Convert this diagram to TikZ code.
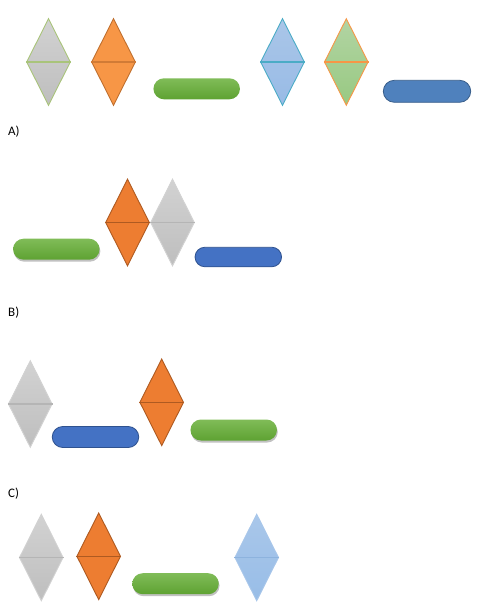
\documentclass[tikz,border=0pt]{standalone}
\usepackage{fontspec}
\setmainfont{Carlito}
\usetikzlibrary{shapes.geometric,shapes.misc,shadows}
\definecolor{grayT}{HTML}{D2D2D2}
\definecolor{grayB}{HTML}{BEBEBE}
\definecolor{grayL}{HTML}{B5B5B5}
\definecolor{oliveL}{HTML}{A9C47A}
\definecolor{orA}{HTML}{F79646}
\definecolor{orAL}{HTML}{C0702F}
\definecolor{orB}{HTML}{ED7D31}
\definecolor{orBL}{HTML}{AE5A21}
\definecolor{ltblT}{HTML}{AAC6E8}
\definecolor{ltblB}{HTML}{98BBE6}
\definecolor{cyanL}{HTML}{4BACC6}
\definecolor{grnT}{HTML}{B2D4A3}
\definecolor{grnB}{HTML}{98C982}
\definecolor{capGT}{HTML}{80BC58}
\definecolor{capGB}{HTML}{5EA232}
\definecolor{blA}{HTML}{4F81BD}
\definecolor{blAL}{HTML}{385D8A}
\definecolor{blB}{HTML}{4472C4}
\definecolor{blBL}{HTML}{2F528F}
\definecolor{dblT}{HTML}{A9C7EA}
\definecolor{dblB}{HTML}{98BDE7}
\definecolor{dblL}{HTML}{8DB3DE}
\begin{document}
\begin{tikzpicture}[x=1pt,y=-1pt,
  dia/.style={diamond, minimum width=44pt, minimum height=87pt, inner sep=0pt, line width=0.9pt},
  pill/.style={rounded rectangle, minimum width=86.5pt, minimum height=21pt, inner sep=0pt},
  graydia/.style={dia, top color=grayT, bottom color=grayB},
  oradia/.style={dia, fill=orB, draw=orBL},
  greencap/.style={pill, top color=capGT, bottom color=capGB},
  shadowcap/.style={greencap, drop shadow={shadow xshift=0.8pt, shadow yshift=-2pt, opacity=0.35, fill=black!70}},
  bluecap/.style={pill, fill=blB, draw=blBL, line width=0.8pt},
  lbl/.style={anchor=west, inner sep=0pt, font=\fontsize{13}{15}\selectfont}
]
\useasboundingbox (0,0) rectangle (481,609);

% ---------- Row A ----------
\node[graydia, draw=oliveL] (a1) at (48.5,62) {};
\draw[oliveL, line width=1.2pt] (a1.west) -- (a1.east);
\node[dia, fill=orA, draw=orAL] (a2) at (113.5,62) {};
\draw[orAL!70!orA, line width=1.2pt] (a2.west) -- (a2.east);
\node[greencap] (a3) at (196.7,88.8) {};
\node[dia, top color=ltblT, bottom color=ltblB, draw=cyanL] (a4) at (282.5,62) {};
\draw[cyanL, line width=1.2pt] (a4.west) -- (a4.east);
\node[dia, top color=grnT, bottom color=grnB, draw=orA] (a5) at (346.3,62) {};
\draw[orA, line width=1.2pt] (a5.west) -- (a5.east);
\node[pill, fill=blA, draw=blAL, line width=0.8pt, minimum width=87.4pt, minimum height=22pt] (a6) at (427,91.3) {};
\node[lbl] (la) at (8,131.5) {A)};

% ---------- Row B ----------
\node[shadowcap] (b1) at (56.3,249.2) {};
\node[oradia] (b2) at (127.5,222.5) {};
\draw[orBL, line width=1.1pt] (b2.west) -- (b2.east);
\node[graydia, draw=grayT] (b3) at (172.5,222.5) {};
\draw[grayL, line width=1.1pt] (b3.west) -- (b3.east);
\node[bluecap, minimum height=19.5pt] (b4) at (238.3,257) {};
\node[lbl] (lb) at (8,312.5) {B)};

% ---------- Row C ----------
\node[graydia, draw=grayT] (c1) at (30.3,404) {};
\draw[grayL, line width=1.1pt] (c1.west) -- (c1.east);
\node[bluecap] (c2) at (95.5,437) {};
\node[oradia] (c3) at (161.7,402.3) {};
\draw[orBL, line width=1.1pt] (c3.west) -- (c3.east);
\node[shadowcap] (c4) at (233.7,430) {};
\node[lbl] (lc) at (8,493.3) {C)};

% ---------- Row D ----------
\node[graydia, draw=grayT] (d1) at (41.3,557.5) {};
\draw[grayL, line width=1.1pt] (d1.west) -- (d1.east);
\node[oradia] (d2) at (98.7,556.3) {};
\draw[orBL, line width=1.1pt] (d2.west) -- (d2.east);
\node[shadowcap] (d3) at (175.5,583.7) {};
\node[dia, top color=dblT, bottom color=dblB, draw=dblT] (d4) at (256.7,557.5) {};
\draw[dblL, line width=1.1pt] (d4.west) -- (d4.east);
\end{tikzpicture}
\end{document}
